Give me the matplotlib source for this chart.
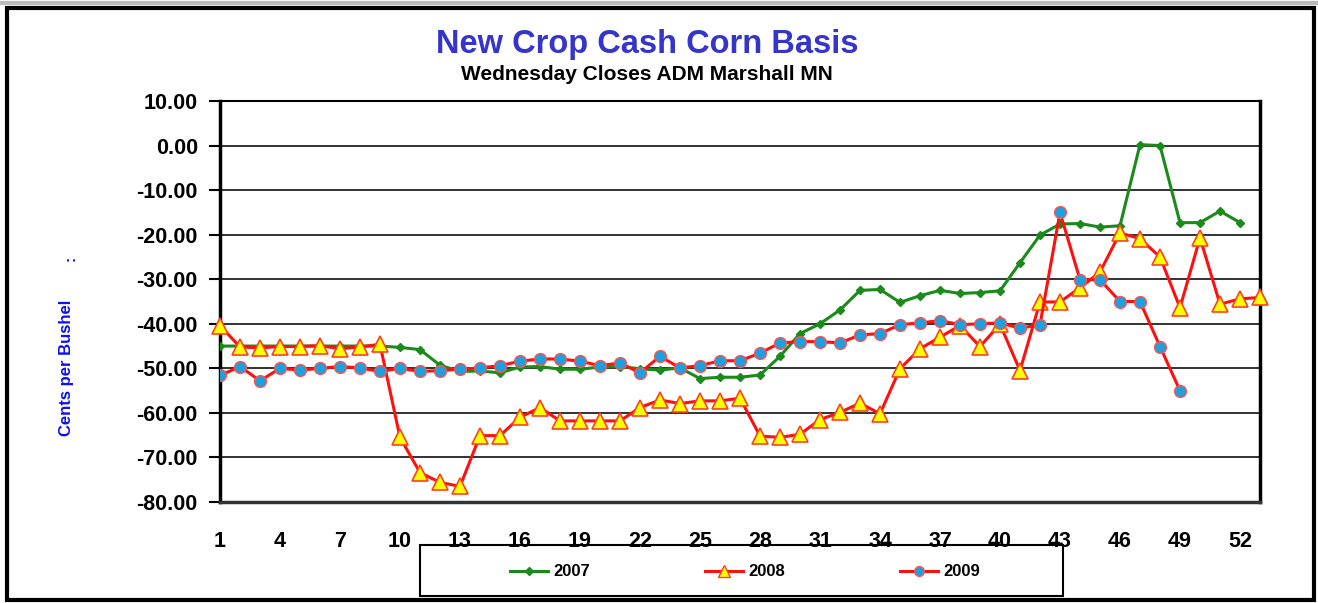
import matplotlib
matplotlib.use("Agg")
import matplotlib.pyplot as plt
from matplotlib.patches import Rectangle
from matplotlib.lines import Line2D

plt.rcParams['font.family'] = ['Liberation Sans', 'DejaVu Sans']
plt.rcParams['axes.unicode_minus'] = False

# Weekly basis values (cents per bushel)
weeks_2007 = list(range(1, 53))
basis_2007 = [-45.0, -45.0, -45.0, -45.0, -45.0, -45.0, -45.0, -45.0, -45.0, -45.3,
              -45.8, -49.3, -50.7, -50.6, -51.0, -49.7, -49.6, -50.2, -50.2, -49.7,
              -49.6, -50.1, -50.4, -49.9, -52.3, -52.0, -52.0, -51.5, -47.3, -42.2,
              -40.0, -36.9, -32.5, -32.3, -35.2, -33.7, -32.5, -33.2, -33.0, -32.6,
              -26.3, -20.1, -17.6, -17.5, -18.3, -18.0, 0.2, 0.0, -17.3, -17.3,
              -14.7, -17.3]

weeks_2008 = list(range(1, 54))
basis_2008 = [-40.4, -45.2, -45.4, -45.1, -45.1, -44.9, -45.6, -45.2, -44.6, -65.5,
              -73.4, -75.6, -76.5, -65.1, -65.1, -61.0, -58.8, -61.8, -61.8, -61.8,
              -61.8, -58.8, -57.1, -57.9, -57.3, -57.3, -56.7, -65.2, -65.5, -64.8,
              -61.5, -59.9, -57.8, -60.2, -50.1, -45.6, -43.0, -40.4, -45.1, -40.1,
              -50.5, -35.1, -35.1, -31.9, -28.4, -19.6, -20.9, -25.0, -36.4, -20.7,
              -35.6, -34.4, -34.1]

weeks_2009 = list(range(1, 50))
basis_2009 = [-51.6, -49.6, -52.8, -50.0, -50.4, -50.0, -49.6, -49.9, -50.7, -50.0,
              -50.7, -50.5, -50.2, -49.9, -49.4, -48.4, -47.9, -47.9, -48.4, -49.4,
              -48.8, -51.0, -47.3, -49.9, -49.4, -48.3, -48.3, -46.6, -44.3, -44.0,
              -44.0, -44.3, -42.5, -42.2, -40.2, -39.8, -39.3, -40.2, -40.0, -39.8,
              -41.0, -40.2, -15.0, -30.1, -30.1, -35.0, -35.0, -45.1, -55.0]

x_ticks = list(range(1, 53, 3))
y_ticks = list(range(-80, 11, 10))

W, H = 1318, 603
fig = plt.figure(figsize=(W / 100, H / 100), dpi=100)
ax = fig.add_axes([220 / W, 1 - 502 / H, 1040 / W, 401 / H])

ax.plot(weeks_2007, basis_2007, color='#1a8a1a', lw=2.2, marker='D', ms=4.5,
        mfc='#1a8a1a', mec='#1a8a1a', label='2007', zorder=3)
ax.plot(weeks_2008, basis_2008, color='#ff1010', lw=2.2, marker='^', ms=11.5,
        mfc='#ffff00', mec='#ff4020', mew=1.2, label='2008', zorder=4, clip_on=False)
ax.plot(weeks_2009, basis_2009, color='#ff1010', lw=2.2, marker='o', ms=8.5,
        mfc='#1ea0dc', mec='#ff5050', mew=1.0, label='2009', zorder=5)

ax.set_xlim(1, 53)
ax.set_ylim(-80, 10)
ax.set_yticks(y_ticks)
ax.set_yticklabels([f"{v:.2f}" for v in y_ticks])
ax.set_xticks(x_ticks)
ax.set_xticklabels([str(v) for v in x_ticks])
ax.grid(axis='y', color='#222222', lw=1.3)
ax.set_axisbelow(True)

ax.tick_params(axis='y', length=8, width=1.5, pad=8, labelsize=15.5)
ax.tick_params(axis='x', length=0, pad=21, labelsize=15.5)
for lab in ax.get_xticklabels() + ax.get_yticklabels():
    lab.set_fontweight('bold')

ax.spines['left'].set_linewidth(2.5)
ax.spines['bottom'].set_linewidth(2.5)
ax.spines['bottom'].set_color('#333333')
ax.spines['top'].set_linewidth(1.5)
ax.spines['right'].set_linewidth(2.5)

# titles and axis label
fig.text(647 / W, 1 - 45 / H, "New Crop Cash Corn Basis", ha='center', va='center',
         fontsize=23.5, fontweight='bold', color='#3535cc')
fig.text(647 / W, 1 - 74 / H, "Wednesday Closes ADM Marshall MN", ha='center', va='center',
         fontsize=15, fontweight='bold', color='black')
fig.text(67 / W, 1 - 368 / H, "Cents per Bushel", rotation=90, ha='center', va='center',
         fontsize=12, fontweight='bold', color='#1010ee',
         family=['Liberation Sans Narrow', 'Liberation Sans'])
fig.text(71 / W, 1 - 258 / H, ":", rotation=90, ha='center', va='center',
         fontsize=11, fontweight='bold', color='#1010ee')

# legend box
fig.patches.append(Rectangle((420 / W, 1 - 596 / H), 643 / W, 51 / H, transform=fig.transFigure,
                             fill=False, edgecolor='black', lw=1.5))
handles = [
    Line2D([], [], color='#1a8a1a', lw=2.2, marker='D', ms=4.5, mfc='#1a8a1a', mec='#1a8a1a'),
    Line2D([], [], color='#ff1010', lw=2.2, marker='^', ms=9, mfc='#ffff00', mec='#ff4020'),
    Line2D([], [], color='#ff1010', lw=2.2, marker='o', ms=7, mfc='#1ea0dc', mec='#ff5050'),
]
leg = fig.legend(handles, ['2007', '2008', '2009'], loc='center', ncol=3,
                 bbox_to_anchor=(745 / W, 1 - 572 / H), frameon=False,
                 prop={'weight': 'bold', 'size': 12}, handlelength=2.3,
                 handletextpad=0.3, columnspacing=6.9)

# outer frame
fig.patches.append(Rectangle((7 / W, 1 - 600 / H), 1307 / W, 592 / H, transform=fig.transFigure,
                             fill=False, edgecolor='black', lw=3))
fig.lines.append(Line2D([0, 1], [1 - 3 / H, 1 - 3 / H], transform=fig.transFigure,
                        color='#bbbbbb', lw=3))

fig.savefig("out.png", dpi=100)
